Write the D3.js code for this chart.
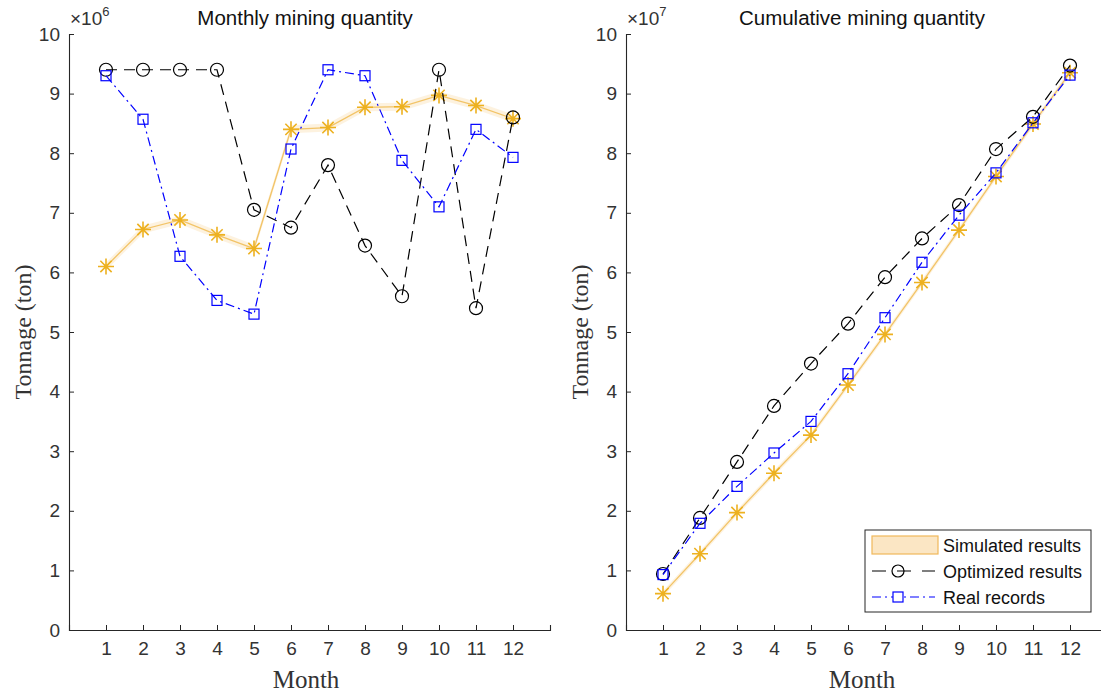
<!DOCTYPE html>
<html><head><meta charset="utf-8">
<script src="https://cdn.jsdelivr.net/npm/d3@7"></script>
<style>body{margin:0;background:#fff;} svg{display:block;}</style>
</head><body>
<svg id="c" width="1101" height="695"></svg>
<script>
const months = [1,2,3,4,5,6,7,8,9,10,11,12];
const yTicks = [0,1,2,3,4,5,6,7,8,9,10];
// Monthly (x10^6 ton)
const monthlySimulated = [6.10,6.72,6.88,6.63,6.40,8.40,8.43,8.77,8.78,8.97,8.80,8.58];
const monthlyOptimized = [9.40,9.40,9.40,9.40,7.05,6.75,7.80,6.45,5.60,9.40,5.40,8.60];
const monthlyReal      = [9.30,8.57,6.27,5.53,5.30,8.07,9.40,9.30,7.88,7.10,8.40,7.93];
// Cumulative (x10^7 ton)
const cumSimulated = [0.61,1.28,1.97,2.63,3.27,4.11,4.96,5.83,6.71,7.61,8.49,9.35];
const cumOptimized = [0.94,1.88,2.82,3.76,4.47,5.14,5.92,6.57,7.13,8.07,8.61,9.47];
const cumReal      = [0.93,1.79,2.41,2.97,3.50,4.30,5.24,6.17,6.96,7.67,8.51,9.31];
const legendLabels = ["Simulated results","Optimized results","Real records"];

const svg = d3.select("#c");
const ORANGE = "#EDB120", LINEOR = "#f2c468";
const SANS = "Liberation Sans, Arial, sans-serif";
const SERIF = "Liberation Serif, Times New Roman, serif";

function starPath(cx, cy, r){
  let p = "";
  for (let k=0;k<4;k++){
    const a = k*Math.PI/4;
    const dx = r*Math.cos(a), dy = r*Math.sin(a);
    p += `M${cx-dx},${cy-dy}L${cx+dx},${cy+dy}`;
  }
  return p;
}

function panel(cfg){
  const g = svg.append("g");
  const x = d3.scaleLinear().domain([0,13]).range([cfg.x0, cfg.x0 + 37*13]);
  const y = d3.scaleLinear().domain([0,10]).range([630,34]);
  const ya = g.append("g").attr("transform",`translate(${cfg.x0},0)`)
    .call(d3.axisLeft(y).tickValues(yTicks).tickSize(-5).tickPadding(9));
  const xa = g.append("g").attr("transform",`translate(0,630)`)
    .call(d3.axisBottom(x).tickValues(months).tickSize(-5).tickPadding(12));
  [ya,xa].forEach(a=>{
    a.attr("font-size",19).attr("font-family",SANS);
    a.select(".domain").attr("stroke","#262626").attr("stroke-width",1.1);
    a.selectAll(".tick line").attr("stroke","#262626");
    a.selectAll("text").attr("font-family",SANS).attr("font-size",19).attr("fill","#333");
  });
  const ex = g.append("text").attr("x",cfg.x0+1).attr("y",25)
    .attr("font-family",SANS).attr("font-size",19).attr("fill","#333");
  ex.append("tspan").text("×10");
  ex.append("tspan").attr("dy",-9).attr("font-size",13).text(cfg.exp);
  g.append("text").attr("x",cfg.titleX).attr("y",25).attr("text-anchor","middle")
    .attr("font-family",SANS).attr("font-size",20.5).attr("fill","#111")
    .text(cfg.title);
  g.append("text").attr("x",cfg.monthX).attr("y",688).attr("text-anchor","middle")
    .attr("font-family",SERIF).attr("font-size",25).attr("fill","#333")
    .text("Month");
  g.append("text").attr("transform",`translate(${cfg.x0-38},332) rotate(-90)`).attr("text-anchor","middle")
    .attr("font-family",SERIF).attr("font-size",24).attr("fill","#333")
    .text("Tonnage (ton)");

  const idx = d3.range(12);
  const band = d3.area().x(i=>x(months[i])).y0(i=>y(cfg.sim[i])-cfg.band).y1(i=>y(cfg.sim[i])+cfg.band);
  g.append("path").datum(idx).attr("d",band).attr("fill","#fbe6bf").attr("opacity",0.5);
  const line = arr => d3.line().x(i=>x(months[i])).y(i=>y(arr[i]))(idx);
  g.append("path").attr("d",line(cfg.sim)).attr("fill","none").attr("stroke",LINEOR).attr("stroke-width",1.3);
  g.selectAll(null).data(idx).enter().append("path")
    .attr("d",i=>starPath(x(months[i]),y(cfg.sim[i]),8)).attr("stroke",ORANGE).attr("stroke-width",1.6);
  g.append("path").attr("d",line(cfg.opt)).attr("fill","none").attr("stroke","#000").attr("stroke-width",1.2).attr("stroke-dasharray","11,7");
  g.selectAll(null).data(idx).enter().append("circle")
    .attr("cx",i=>x(months[i])).attr("cy",i=>y(cfg.opt[i])).attr("r",6.5)
    .attr("fill","none").attr("stroke","#000").attr("stroke-width",1.2);
  g.append("path").attr("d",line(cfg.real)).attr("fill","none").attr("stroke","#0000ff").attr("stroke-width",1.2).attr("stroke-dasharray","9,4,2,4");
  g.selectAll(null).data(idx).enter().append("rect")
    .attr("x",i=>x(months[i])-5).attr("y",i=>y(cfg.real[i])-5).attr("width",10).attr("height",10)
    .attr("fill","none").attr("stroke","#0000ff").attr("stroke-width",1.2);
  return g;
}

panel({x0:69, exp:"6", title:"Monthly mining quantity", titleX:305, monthX:306, sim:monthlySimulated, opt:monthlyOptimized, real:monthlyReal, band:4});
panel({x0:626, exp:"7", title:"Cumulative mining quantity", titleX:862, monthX:862, sim:cumSimulated, opt:cumOptimized, real:cumReal, band:3});

// legend
const lg = svg.append("g").attr("transform","translate(865,530)");
lg.append("rect").attr("width",226).attr("height",82).attr("fill","#fff").attr("stroke","#262626").attr("stroke-width",1);
const rows = [15,41,67];
lg.append("rect").attr("x",7).attr("y",rows[0]-9).attr("width",66).attr("height",18).attr("fill","#fbe6c4").attr("stroke","#f0b85a").attr("stroke-width",1.2);
lg.append("line").attr("x1",7).attr("x2",70).attr("y1",rows[1]).attr("y2",rows[1]).attr("stroke","#000").attr("stroke-width",1.2).attr("stroke-dasharray","14,11");
lg.append("circle").attr("cx",33).attr("cy",rows[1]).attr("r",6).attr("fill","none").attr("stroke","#000").attr("stroke-width",1.2);
lg.append("line").attr("x1",7).attr("x2",70).attr("y1",rows[2]).attr("y2",rows[2]).attr("stroke","#0000ff").attr("stroke-width",1.2).attr("stroke-dasharray","9,4,2,4");
lg.append("rect").attr("x",28).attr("y",rows[2]-5).attr("width",10).attr("height",10).attr("fill","#fff").attr("stroke","#0000ff").attr("stroke-width",1.2);
legendLabels.forEach((t,i)=>{
  lg.append("text").attr("x",78).attr("y",rows[i]+6.5).attr("font-family",SANS)
    .attr("font-size",18).attr("fill","#111").text(t);
});
</script>
</body></html>
